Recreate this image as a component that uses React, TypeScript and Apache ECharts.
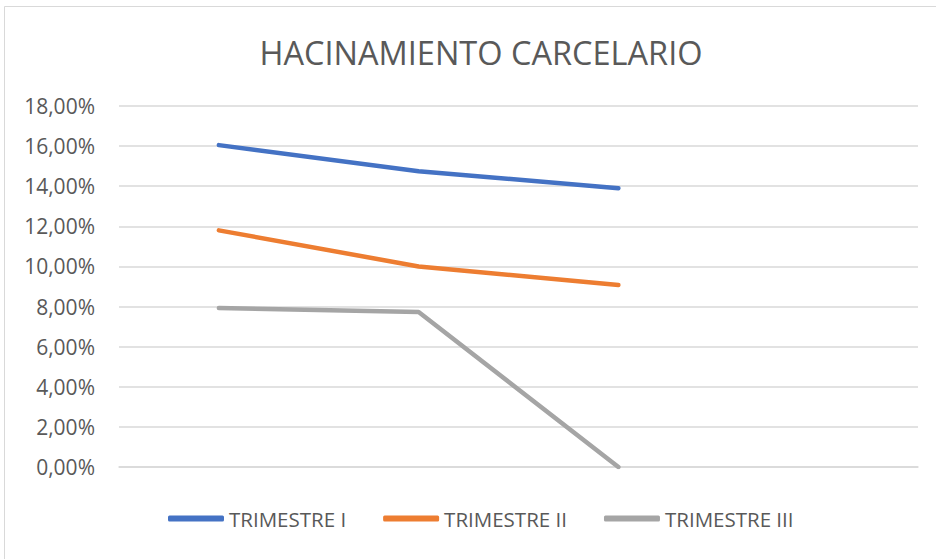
import React, { useEffect, useRef } from "react";
import * as echarts from "echarts";

const categories = ["1", "2", "3", "4"];
const seriesNames = ["TRIMESTRE I", "TRIMESTRE II", "TRIMESTRE III"];
const trimestre1 = [16.05, 14.75, 13.9];
const trimestre2 = [11.8, 10.0, 9.07];
const trimestre3 = [7.93, 7.73, 0.0];
const yTicks = { min: 0, max: 18, interval: 2 };
const colors = ["#4472C4", "#ED7D31", "#A5A5A5"];

const FONT = "'Open Sans', sans-serif";
const TEXT = "#595959";

export default function App() {
  const ref = useRef<HTMLDivElement>(null);
  useEffect(() => {
    if (!ref.current) return;
    const chart = echarts.init(ref.current, null, { renderer: "svg" });
    const data = [trimestre1, trimestre2, trimestre3];
    chart.setOption({
      animation: false,
      backgroundColor: "#ffffff",
      title: {
        text: "HACINAMIENTO CARCELARIO",
        left: 476,
        textAlign: "center",
        top: 31,
        textStyle: { fontFamily: FONT, fontSize: 32.5, fontWeight: "normal", color: TEXT },
      },
      graphic: [
        {
          type: "rect",
          shape: { x: 4.5, y: 6.5, width: 940, height: 560 },
          style: { fill: "none", stroke: "#d9d9d9", lineWidth: 1 },
          silent: true,
        },
      ],
      legend: {
        bottom: 25,
        left: 163,
        itemWidth: 56,
        itemHeight: 6,
        itemGap: 37,
        icon: "roundRect",
        textStyle: { fontFamily: FONT, fontSize: 20.5, color: TEXT },
        data: seriesNames,
      },
      grid: { left: 119, right: 18, top: 106, bottom: 92, containLabel: false },
      xAxis: {
        type: "category",
        data: categories,
        boundaryGap: true,
        axisLabel: { show: false },
        axisTick: { show: false },
        axisLine: { show: true, lineStyle: { color: "#d9d9d9", width: 1.5 } },
        splitLine: { show: false },
      },
      yAxis: {
        type: "value",
        min: yTicks.min,
        max: yTicks.max,
        interval: yTicks.interval,
        axisLine: { show: false },
        axisTick: { show: false },
        axisLabel: {
          margin: 24,
          fontFamily: FONT,
          fontSize: 21,
          color: TEXT,
          formatter: (v: number) => v.toFixed(2).replace(".", ",") + "%",
        },
        splitLine: { lineStyle: { color: "#d9d9d9", width: 1.5 } },
      },
      series: seriesNames.map((name, i) => ({
        name,
        type: "line",
        data: data[i],
        symbol: "none",
        color: colors[i],
        lineStyle: { width: 4.5, color: colors[i], cap: "round", join: "round" },
      })),
    });
    return () => chart.dispose();
  }, []);
  return (
    <div
      ref={ref}
      style={{ position: "absolute", left: 0, top: 0, width: 936, height: 559 }}
    />
  );
}
